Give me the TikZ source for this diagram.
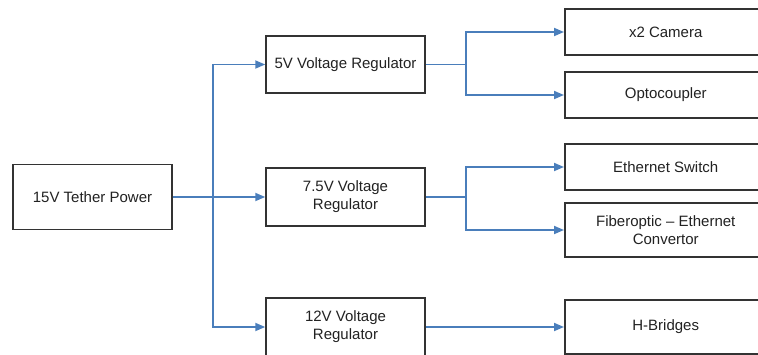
\documentclass[tikz,border=0pt]{standalone}
\usepackage{fontspec}
\setmainfont{Liberation Sans}
\usepackage{xcolor}
\definecolor{wire}{HTML}{4A7EBB}
\definecolor{frame}{HTML}{333333}
\definecolor{ink}{HTML}{222222}
\usepackage{tikz}
\usetikzlibrary{positioning,arrows.meta,calc}

\begin{document}
\begin{tikzpicture}[x=1pt, y=-1pt,
    block/.style={draw=frame, line width=1.5pt, fill=white, text=ink,
      align=center, inner sep=0pt, minimum width=159pt,
      font=\fontsize{15}{18}\selectfont},
    load/.style={block, minimum width=202pt, minimum height=46pt, anchor=west},
    feed/.style={draw=wire, line width=1.8pt},
    tofeed/.style={feed, -{Triangle[length=10pt, width=8pt]}}]
  \useasboundingbox (0,0) rectangle (758,354);
  \clip (0,0) rectangle (758,354);
  % source
  \node[block, minimum height=65pt] (power) at (92.5,197) {15V Tether Power};
  % regulators
  \node[block, minimum height=57pt] (reg5) at (345.5,64.5) {5V Voltage Regulator};
  \node[block, minimum height=58pt] (reg75) at (345.5,197) {7.5V Voltage\\Regulator};
  \node[block, minimum height=58pt] (reg12) at (345.5,327) {12V Voltage\\Regulator};
  % loads
  \node[load] (cam) at (564,32) {x2 Camera};
  \node[load] (opto) at (564,95) {Optocoupler};
  \node[load] (eth) at (564,167) {Ethernet Switch};
  \node[load, minimum height=54pt] (fib) at (564,230) {Fiberoptic -- Ethernet\\Convertor};
  \node[load, minimum height=54pt] (hb) at (564,327) {H-Bridges};
  % trunk from the tether
  \coordinate (trunk) at (213,197);
  \draw[feed] (power) -- (trunk);
  \draw[tofeed] (trunk) |- (reg5.west);
  \draw[tofeed] (trunk) -- (reg75.west);
  \draw[tofeed] (trunk) |- (reg12.west);
  % 5V branch
  \coordinate (split5) at (466,64.5);
  \draw[feed] (reg5) -- (split5);
  \draw[tofeed] (split5) |- (cam.west);
  \draw[tofeed] (split5) |- (opto.west);
  % 7.5V branch
  \coordinate (split75) at (466,197);
  \draw[feed] (reg75) -- (split75);
  \draw[tofeed] (split75) |- (eth.west);
  \draw[tofeed] (split75) |- (fib.west);
  % 12V branch
  \draw[tofeed] (reg12) -- (hb.west);
\end{tikzpicture}
\end{document}
